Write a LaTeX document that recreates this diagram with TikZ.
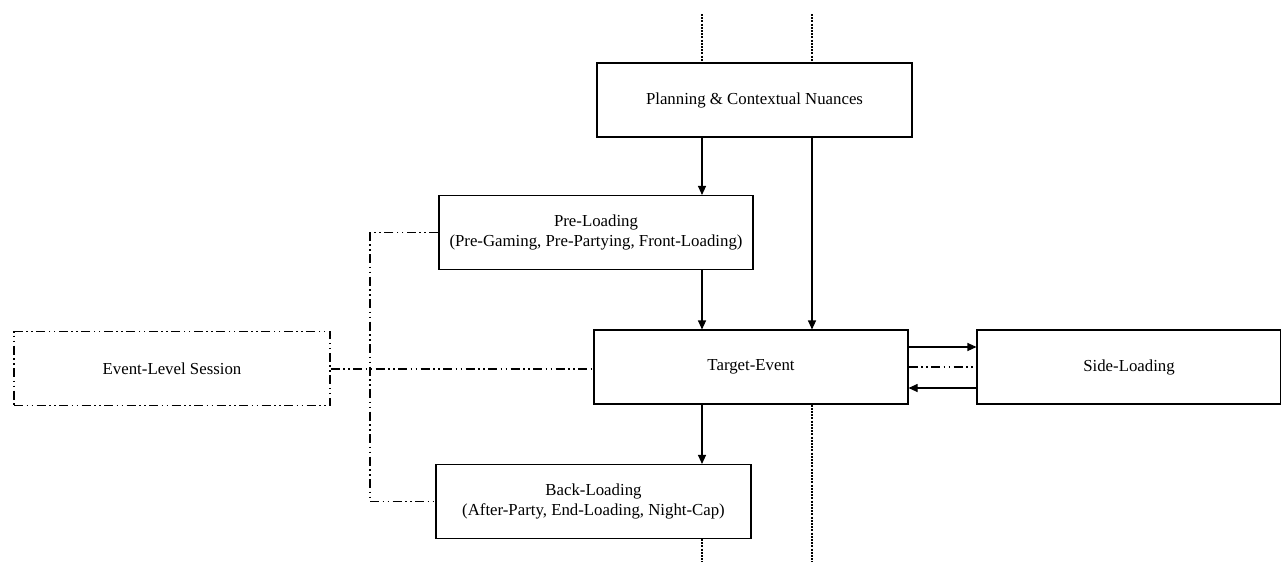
\documentclass[tikz,border=0pt]{standalone}
\usepackage{fontspec}
\setmainfont{Liberation Serif}
\usetikzlibrary{arrows.meta}
\begin{document}
\begin{tikzpicture}[x=1pt,y=-1pt,
  box/.style={draw, line width=1.1pt, minimum height=74pt, align=center, font=\fontsize{16.8}{20}\selectfont, inner sep=0pt},
  ddbox/.style={box, dash pattern=on 9pt off 3.5pt on 1.5pt off 3.5pt on 1.5pt off 3.5pt},
  arr/.style={line width=1.1pt, -{Triangle[length=9pt,width=8pt]}},
  ddline/.style={line width=1.1pt, dash pattern=on 9pt off 3.5pt on 1.5pt off 3.5pt on 1.5pt off 3.5pt},
  vdash/.style={line width=1.1pt, dash pattern=on 2pt off 1.2pt}]
\useasboundingbox (0,0) rectangle (1281,562);
\node[box, minimum width=315pt] (plan) at (754.5,100) {Planning \& Contextual Nuances};
\node[box, minimum width=314pt] (pre) at (596,232.5) {Pre-Loading\\(Pre-Gaming, Pre-Partying, Front-Loading)};
\node[box, minimum width=314pt] (target) at (751,367) {Target-Event};
\node[box, minimum width=304pt] (side) at (1129,367) {Side-Loading};
\node[box, minimum width=315pt] (back) at (593.5,501.5) {Back-Loading\\(After-Party, End-Loading, Night-Cap)};
\node[ddbox, minimum width=316pt, line width=1.1pt] (els) at (172,368.5) {Event-Level Session};
% top dashed lines
\coordinate (t1) at (702,14);
\coordinate (t2) at (812,14);
\coordinate (b1) at (702,562);
\coordinate (b2) at (812,562);
\draw[vdash] (t1) -- (t1 |- plan.north);
\draw[vdash] (t2) -- (t2 |- plan.north);
\draw[vdash] (b2 |- target.south) -- (b2);
\draw[vdash] (b1 |- back.south) -- (b1);
% arrows
\draw[arr] (t1 |- plan.south) -- (t1 |- pre.north);
\draw[arr] (t2 |- plan.south) -- (t2 |- target.north);
\draw[arr] (t1 |- pre.south) -- (t1 |- target.north);
\draw[arr] (t1 |- target.south) -- (t1 |- back.north);
% side
\draw[arr] ([yshift=20pt]target.east) -- ([yshift=20pt]target.east -| side.west);
\draw[ddline] (target.east) -- (side.west);
\draw[arr] ([yshift=-21pt]side.west) -- ([yshift=-21pt]side.west -| target.east);
% event level connectors
\coordinate (v) at (370,369);
\draw[ddline] (els.east |- v) -- (target.west |- v);
\draw[ddline] (pre.west) -- (v |- pre.west) -- (v |- back.west) -- (back.west);
\end{tikzpicture}
\end{document}
